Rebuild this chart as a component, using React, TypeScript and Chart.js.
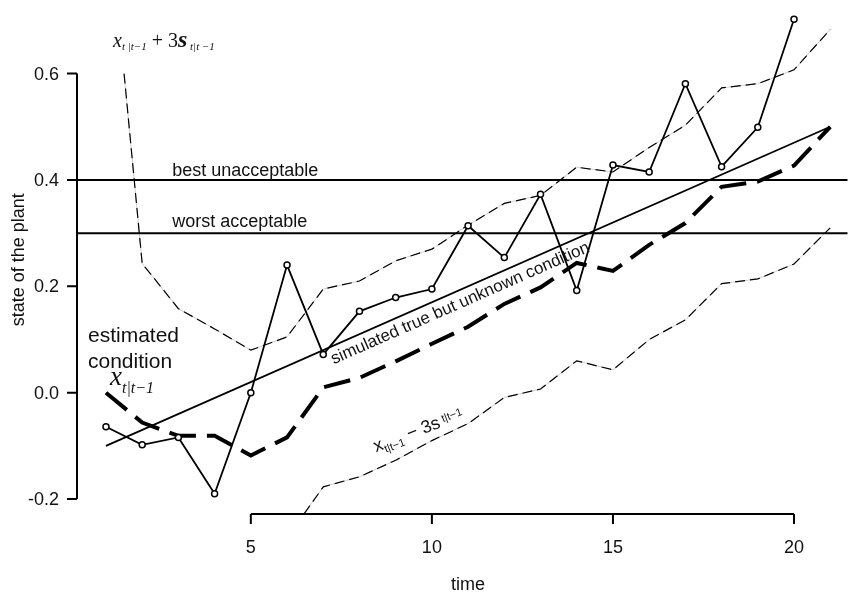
import React, { useEffect, useRef } from "react";
import { Chart, registerables } from "chart.js";

Chart.register(...registerables);

// ---- data ----
const obsTimes = [1, 2, 3, 4, 5, 6, 7, 8, 9, 10, 11, 12, 13, 14, 15, 16, 17, 18, 19, 20];
const observed = [-0.064, -0.098, -0.084, -0.19, 0.0, 0.24, 0.072, 0.153, 0.179, 0.195, 0.314, 0.254, 0.373, 0.192, 0.428, 0.415, 0.581, 0.425, 0.499, 0.702];

const estTimes = [1, 2, 3, 4, 5, 6, 7, 8, 9, 10, 11, 12, 13, 14, 15, 16, 17, 18, 19, 20, 21];
const estimated = [0.0, -0.056, -0.081, -0.081, -0.118, -0.084, 0.01, 0.028, 0.059, 0.092, 0.124, 0.167, 0.198, 0.244, 0.229, 0.278, 0.319, 0.387, 0.397, 0.427, 0.5];

const upperTimes = [1.5, 2, 3, 4, 5, 6, 7, 8, 9, 10, 11, 12, 13, 14, 15, 16, 17, 18, 19, 20, 21];
const upperBand = [0.6, 0.243, 0.158, 0.12, 0.08, 0.105, 0.195, 0.21, 0.248, 0.27, 0.315, 0.356, 0.371, 0.424, 0.415, 0.461, 0.503, 0.573, 0.581, 0.607, 0.683];

const lowerTimes = [2, 3, 4, 5, 6, 7, 8, 9, 10, 11, 12, 13, 14, 15, 16, 17, 18, 19, 20, 21];
const lowerBand = [-0.355, -0.32, -0.282, -0.316, -0.273, -0.177, -0.158, -0.127, -0.09, -0.058, -0.009, 0.007, 0.06, 0.043, 0.1, 0.137, 0.205, 0.214, 0.242, 0.31];

const trueTimes = [1, 21];
const trueCondition = [-0.1, 0.5];

const bestUnacceptable = 0.4;
const worstAcceptable = 0.3;
const hlineTimes = [0, 22];

const xTicks = [5, 10, 15, 20];
const xTickLabels = ["5", "10", "15", "20"];
const yTicks = [-0.2, 0.0, 0.2, 0.4, 0.6];
const yTickLabels = ["-0.2", "0.0", "0.2", "0.4", "0.6"];

const X_MIN = 0.2;
const X_MAX = 21.477;
const Y_MIN = -0.228;
const Y_MAX = 0.728;

const pts = (xs: number[], ys: number[]) => xs.map((x, i) => ({ x, y: ys[i] }));

const SANS = '"Liberation Sans", Arial, sans-serif';
const SERIF = '"Liberation Serif", "Times New Roman", serif';

type Run = { text: string; font: string; dy?: number };

function drawRuns(ctx: CanvasRenderingContext2D, x: number, y: number, runs: Run[]) {
  let cx = x;
  for (const r of runs) {
    ctx.font = r.font;
    ctx.fillText(r.text, cx, y + (r.dy || 0));
    cx += ctx.measureText(r.text).width;
  }
}

const decorPlugin = {
  id: "decor",
  afterDraw(chart: any) {
    const ctx: CanvasRenderingContext2D = chart.ctx;
    const xs = chart.scales.x;
    const ys = chart.scales.y;
    const area = chart.chartArea;
    ctx.save();
    ctx.strokeStyle = "#000";
    ctx.fillStyle = "#111";
    ctx.lineWidth = 2;
    ctx.lineCap = "butt";

    // y axis
    const ax = area.left;
    ctx.beginPath();
    ctx.moveTo(ax, ys.getPixelForValue(yTicks[0]));
    ctx.lineTo(ax, ys.getPixelForValue(yTicks[yTicks.length - 1]));
    yTicks.forEach((v) => {
      const py = ys.getPixelForValue(v);
      ctx.moveTo(ax, py);
      ctx.lineTo(ax - 10, py);
    });
    ctx.stroke();
    ctx.font = `18px ${SANS}`;
    ctx.textAlign = "right";
    ctx.textBaseline = "middle";
    yTicks.forEach((v, i) => {
      ctx.fillText(yTickLabels[i], ax - 18, ys.getPixelForValue(v) + 1);
    });

    // x axis
    const ay = area.bottom;
    ctx.beginPath();
    ctx.moveTo(xs.getPixelForValue(xTicks[0]), ay);
    ctx.lineTo(xs.getPixelForValue(xTicks[xTicks.length - 1]), ay);
    xTicks.forEach((v) => {
      const px = xs.getPixelForValue(v);
      ctx.moveTo(px, ay);
      ctx.lineTo(px, ay + 10);
    });
    ctx.stroke();
    ctx.textAlign = "center";
    ctx.textBaseline = "alphabetic";
    xTicks.forEach((v, i) => {
      ctx.fillText(xTickLabels[i], xs.getPixelForValue(v), ay + 39);
    });

    // axis titles
    ctx.fillText("time", xs.getPixelForValue(11), 590);
    ctx.save();
    ctx.translate(24, (area.top + area.bottom) / 2);
    ctx.rotate(-Math.PI / 2);
    ctx.textAlign = "center";
    ctx.fillText("state of the plant", 0, 0);
    ctx.restore();

    // reference line labels
    ctx.textAlign = "left";
    ctx.font = `18px ${SANS}`;
    ctx.fillText("best unacceptable", xs.getPixelForValue(2.83), ys.getPixelForValue(bestUnacceptable) - 4);
    ctx.fillText("worst acceptable", xs.getPixelForValue(2.83), ys.getPixelForValue(worstAcceptable) - 6);

    // estimated condition label
    ctx.font = `21px ${SANS}`;
    ctx.fillText("estimated", 88, 342);
    ctx.fillText("condition", 88, 368);
    drawRuns(ctx, 110, 385, [
      { text: "x", font: `italic 27px ${SERIF}` },
      { text: "t|t\u22121", font: `italic 16px ${SERIF}`, dy: 8 },
    ]);

    // upper band label
    drawRuns(ctx, 113, 47, [
      { text: "x", font: `italic 20px ${SERIF}` },
      { text: "t |t\u22121", font: `italic 11px ${SERIF}`, dy: 3 },
      { text: " + 3", font: `20px ${SERIF}` },
      { text: "s", font: `italic bold 24px ${SERIF}` },
      { text: " t|t \u22121", font: `italic 11px ${SERIF}`, dy: 3 },
    ]);

    // lower band label (rotated)
    ctx.save();
    ctx.translate(xs.getPixelForValue(8.46), ys.getPixelForValue(-0.112));
    ctx.rotate((-21 * Math.PI) / 180);
    drawRuns(ctx, 0, 0, [
      { text: "x", font: `18px ${SANS}` },
      { text: "t|t\u22121", font: `11px ${SANS}`, dy: 4 },
      { text: " \u2212 3s", font: `18px ${SANS}` },
      { text: " t|t\u22121", font: `11px ${SANS}`, dy: -4 },
    ]);
    ctx.restore();

    // true condition label (along the line)
    const x0 = xs.getPixelForValue(trueTimes[0]);
    const y0 = ys.getPixelForValue(trueCondition[0]);
    const x1 = xs.getPixelForValue(trueTimes[1]);
    const y1 = ys.getPixelForValue(trueCondition[1]);
    const ang = Math.atan2(y1 - y0, x1 - x0);
    const tA = 7.1;
    const frac = (tA - trueTimes[0]) / (trueTimes[1] - trueTimes[0]);
    const vA = trueCondition[0] + frac * (trueCondition[1] - trueCondition[0]);
    ctx.save();
    ctx.translate(xs.getPixelForValue(tA), ys.getPixelForValue(vA));
    ctx.rotate(ang);
    ctx.font = `17px ${SANS}`;
    ctx.textBaseline = "top";
    ctx.fillText("simulated true but unknown condition", 0, 4);
    ctx.restore();

    ctx.restore();
  },
};

export default function App() {
  const ref = useRef<HTMLCanvasElement>(null);
  useEffect(() => {
    document.body.style.margin = "0";
    const canvas = ref.current;
    if (!canvas) return;
    const chart = new Chart(canvas, {
      type: "line",
      data: {
        datasets: [
          {
            label: "observed",
            data: pts(obsTimes, observed),
            borderColor: "#000",
            borderWidth: 1.8,
            pointRadius: 3,
            pointBorderWidth: 1.5,
            pointBackgroundColor: "#fff",
            pointBorderColor: "#000",
            tension: 0,
          },
          {
            label: "true",
            data: pts(trueTimes, trueCondition),
            borderColor: "#000",
            borderWidth: 1.8,
            pointRadius: 0,
          },
          {
            label: "estimated",
            data: pts(estTimes, estimated),
            borderColor: "#000",
            borderWidth: 4,
            borderDash: [27, 11],
            borderCapStyle: "butt",
            pointRadius: 0,
          },
          {
            label: "upper",
            data: pts(upperTimes, upperBand),
            borderColor: "#000",
            borderWidth: 1.2,
            borderDash: [10, 5],
            pointRadius: 0,
          },
          {
            label: "lower",
            data: pts(lowerTimes, lowerBand),
            borderColor: "#000",
            borderWidth: 1.2,
            borderDash: [10, 5],
            pointRadius: 0,
          },
          {
            label: "best unacceptable",
            data: pts(hlineTimes, [bestUnacceptable, bestUnacceptable]),
            borderColor: "#000",
            borderWidth: 2,
            pointRadius: 0,
          },
          {
            label: "worst acceptable",
            data: pts(hlineTimes, [worstAcceptable, worstAcceptable]),
            borderColor: "#000",
            borderWidth: 2,
            pointRadius: 0,
          },
          {
            label: "upper-under",
            data: pts(upperTimes, upperBand),
            borderColor: "#cfcfcf",
            borderWidth: 1,
            pointRadius: 0,
          },
          {
            label: "lower-under",
            data: pts(lowerTimes, lowerBand),
            borderColor: "#cfcfcf",
            borderWidth: 1,
            pointRadius: 0,
          },
        ],
      },
      options: {
        responsive: false,
        devicePixelRatio: 1,
        animation: false,
        layout: { padding: { left: 77, right: 0, top: 0, bottom: 83 } },
        plugins: { legend: { display: false }, tooltip: { enabled: false } },
        scales: {
          x: { type: "linear", min: X_MIN, max: X_MAX, display: false },
          y: { type: "linear", min: Y_MIN, max: Y_MAX, display: false },
        },
      },
      plugins: [decorPlugin],
    } as any);
    return () => chart.destroy();
  }, []);
  return (
    <canvas
      ref={ref}
      width={853}
      height={597}
      style={{ display: "block", width: 853, height: 597 }}
    />
  );
}
